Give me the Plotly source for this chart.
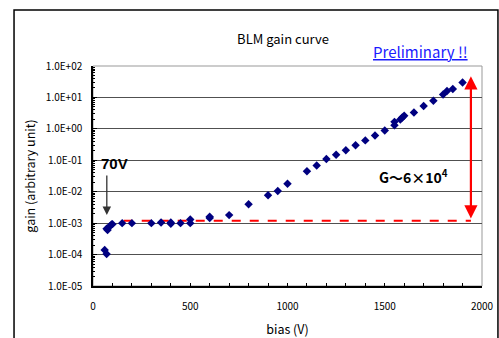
import plotly.graph_objects as go

# ---- data ----
bias_v = [60, 70, 70, 75, 85, 95, 100, 150, 200, 300, 350, 400, 400, 450, 500, 500,
          600, 600, 700, 800, 900, 950, 1000, 1100, 1150, 1200, 1250, 1300, 1350, 1400,
          1450, 1500, 1550, 1550, 1580, 1590, 1600, 1650, 1700, 1750, 1800, 1820, 1850, 1900]
gain = [1.4e-4, 1.05e-4, 6.6e-4, 6.0e-4, 7.8e-4, 9.0e-4, 9.3e-4, 1.0e-3, 1.0e-3, 1.0e-3,
        1.05e-3, 9.5e-4, 1.05e-3, 1.0e-3, 1.3e-3, 1.0e-3, 1.6e-3, 1.45e-3, 1.8e-3, 4.0e-3,
        7.7e-3, 1.05e-2, 1.8e-2, 4.5e-2, 6.8e-2, 0.11, 0.15, 0.21, 0.30, 0.43,
        0.61, 0.89, 1.3, 1.67, 2.0, 2.3, 2.6, 3.3, 5.3, 7.8, 12.3, 16, 18.6, 30]

ref_x = [158, 1943]
ref_y = [1.2e-3, 1.2e-3]

y_tickvals = [1e-5, 1e-4, 1e-3, 1e-2, 1e-1, 1e0, 1e1, 1e2]
y_ticktext = ["1.0E-05", "1.0E-04", "1.0E-03", "1.0E-02", "1.0E-01", "1.0E+00", "1.0E+01", "1.0E+02"]
x_tickvals = [0, 500, 1000, 1500, 2000]
x_ticktext = ["0", "500", "1000", "1500", "2000"]

FONT = "Noto Sans CJK JP"

fig = go.Figure()
fig.add_trace(go.Scatter(x=ref_x, y=ref_y, mode="lines",
                         line=dict(color="#ff0000", width=2, dash="dash"),
                         hoverinfo="skip", showlegend=False))
fig.add_trace(go.Scatter(x=bias_v, y=gain, mode="markers",
                         marker=dict(symbol="diamond", size=6.5, color="#000080"),
                         showlegend=False))

minor_y = [k * 10.0 ** e for e in range(-5, 2) for k in range(2, 10)]

fig.update_layout(
    width=499, height=338,
    margin=dict(l=93, r=17, t=66, b=52),
    paper_bgcolor="white", plot_bgcolor="white",
    font=dict(family=FONT, size=10, color="black"),
    title=dict(text="BLM gain curve", x=283 / 499, xanchor="center",
               y=1 - 39 / 338, yanchor="middle",
               font=dict(family=FONT, size=13, color="black")),
    xaxis=dict(range=[0, 2000], tickvals=x_tickvals, ticktext=x_ticktext, automargin=False,
               showgrid=False, zeroline=False, showline=True, linecolor="black", linewidth=1.5,
               ticks="inside", ticklen=3, tickcolor="black",
               minor=dict(dtick=100, ticks="inside", ticklen=3, tickcolor="black", showgrid=False),
               ticklabelstandoff=10,
               title=dict(text="bias (V)", font=dict(family=FONT, size=12.5), standoff=13)),
    yaxis=dict(type="log", range=[-5, 2], tickvals=y_tickvals, ticktext=y_ticktext, automargin=False,
               showgrid=True, gridcolor="#505050", gridwidth=1.4,
               zeroline=False, showline=True, linecolor="black", linewidth=1.5,
               ticks="inside", ticklen=4, tickcolor="black",
               minor=dict(tickvals=minor_y, ticks="inside", ticklen=2, tickcolor="black", showgrid=False),
               ticklabelstandoff=7,
               title=dict(text="gain (arbitrary unit)", font=dict(family=FONT, size=12.5), standoff=7)),
    shapes=[
        dict(type="rect", xref="paper", yref="paper", x0=0, x1=1, y0=0, y1=1,
             line=dict(color="#999999", width=1), layer="below"),
        dict(type="rect", xref="paper", yref="paper", x0=-0.203, x1=1.041, y0=-0.3, y1=1.2545,
             line=dict(color="black", width=1.5)),
    ],
    annotations=[
        dict(text="<u>Preliminary !!</u>", xref="paper", yref="paper", x=(420.5 - 93) / 389,
             y=(286 - 52) / 220, xanchor="center", yanchor="middle",
             showarrow=False, font=dict(family=FONT, size=15, color="#1a1aff")),
        dict(text="<b>70V</b>", x=112, y=-1.09, xref="x", yref="y", showarrow=False,
             xanchor="center", yanchor="middle",
             font=dict(family="Liberation Sans", size=15, color="black")),
        dict(text="", x=71, y=-2.74, ax=71, ay=-1.44, xref="x", yref="y", axref="x", ayref="y",
             showarrow=True, arrowhead=2, arrowsize=1.3, arrowwidth=1.3, arrowcolor="#333333"),
        dict(text="<b>G～6×10<sup>4</sup></b>", x=1650, y=-1.53, xref="x", yref="y", showarrow=False,
             xanchor="center", yanchor="middle",
             font=dict(family=FONT, size=14, color="black")),
        dict(text="", x=1943, y=1.67, ax=1943, ay=-2.90, xref="x", yref="y", axref="x", ayref="y",
             showarrow=True, arrowhead=2, arrowside="end+start", arrowsize=1.2, arrowwidth=2.2,
             arrowcolor="#ff0000"),
    ],
)

fig.write_html("out.html", post_script="document.body.style.margin='0px';",
               config={"displayModeBar": False})
